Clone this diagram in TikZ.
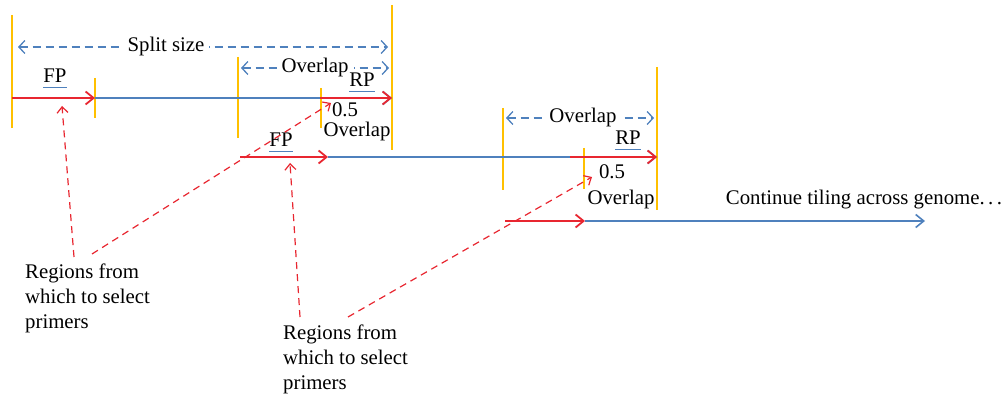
\documentclass[tikz,border=0pt]{standalone}
\usepackage{fontspec}
\setmainfont{Liberation Serif}
\usetikzlibrary{arrows.meta}
\definecolor{seqred}{RGB}{232,38,48}
\definecolor{seqblue}{RGB}{79,129,189}
\definecolor{tileyellow}{RGB}{255,192,0}
\tikzset{
  template/.style={seqblue, line width=1.6pt, -{Straight Barb[length=8pt,width=13pt]}},
  primer/.style={seqred, line width=1.8pt, -{Straight Barb[length=8pt,width=13pt]}},
  tick/.style={tileyellow, line width=1.7pt},
  span/.style={seqblue, line width=1.3pt, dash pattern=on 8pt off 5pt, {Straight Barb[length=6pt,width=13pt]}-{Straight Barb[length=6pt,width=13pt]}},
  pointer/.style={seqred, line width=1.2pt, dash pattern=on 7pt off 5pt, -{Straight Barb[length=6pt,width=11pt]}},
  tag/.style={inner xsep=0pt, inner ysep=4.5pt, text depth=0pt},
  spanlabel/.style={fill=white, text=black, inner xsep=5pt, inner ysep=2pt},
  regions/.style={align=left, anchor=north west, inner sep=0pt}
}
\begin{document}
\begin{tikzpicture}[x=1pt, y=-1pt, font=\fontsize{20.8}{25}\selectfont]
\useasboundingbox (0,0) rectangle (1006,395);

\coordinate (a1) at (12,98);
\coordinate (a2) at (95,98);
\coordinate (a3) at (320,98);
\coordinate (a4) at (392,98);
\coordinate (b1) at (240,157);
\coordinate (b2) at (328,157);
\coordinate (b3) at (570,157);
\coordinate (b4) at (657,157);
\coordinate (c1) at (505,221);
\coordinate (c2) at (585,221);
\coordinate (c3) at (925,221);

\draw [tick] (12,15) -- (12,128);
\draw [tick] (95,78) -- (95,118);
\draw [tick] (238,57) -- (238,138);
\draw [tick] (321,88) -- (321,128);
\draw [tick] (392,5) -- (392,150);
\draw [tick] (503,108) -- (503,190);
\draw [tick] (584,148) -- (584,189);
\draw [tick] (657,67) -- (657,210);

\draw [template] (a2) -- (a4);
\draw [primer] (a1) -- (a2);
\draw [primer] (a3) -- (a4);
\draw [template] (b2) -- (b4);
\draw [primer] (b1) -- (b2);
\draw [primer] (b3) -- (b4);
\draw [template] (c2) -- (c3);
\draw [primer] (c1) -- (c2);

\draw [span] (18,47) -- node[pos=0.4, spanlabel] {Split size} (388,47);
\draw [span] (241,68) -- node[pos=0.5, spanlabel] {Overlap} (389,68);
\draw [span] (506,118) -- node[pos=0.52, spanlabel] {Overlap} (654,118);

\node [tag, anchor=base] (fp1) at (55,83) {FP};
\node [tag, anchor=base] (rp1) at (362,87) {RP};
\node [tag, anchor=base] (fp2) at (281,147) {FP};
\node [tag, anchor=base] (rp2) at (628,145) {RP};
\foreach \t in {fp1,rp1,fp2,rp2}
  \draw [seqblue, line width=1.2pt] (\t.south west) -- (\t.south east);

\node (half1) at (345,110) {0.5};
\node (ovl1) at (357,131) {Overlap};
\node (half2) at (612,172) {0.5};
\node (ovl2) at (621,199) {Overlap};
\node (cont) at (864,200) {Continue tiling across genome.\,.\,.};

\node [regions] (reg1) at (25,264) {Regions from\\which to select\\primers};
\node [regions] (reg2) at (283,325) {Regions from\\which to select\\primers};

\coordinate (p1) at (74,257);
\coordinate (p2) at (92,254);
\coordinate (p3) at (300,317);
\coordinate (p4) at (348,317);
\draw [pointer] (p1) -- (62,106);
\draw [pointer] (p2) -- (331,103);
\draw [pointer] (p3) -- (290,163);
\draw [pointer] (p4) -- (592,177);

\end{tikzpicture}
\end{document}
